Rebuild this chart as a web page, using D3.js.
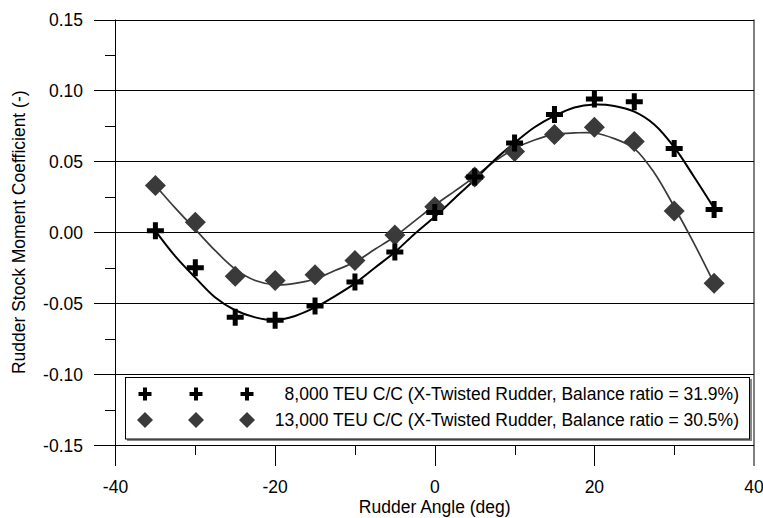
<!DOCTYPE html>
<html>
<head>
<meta charset="utf-8">
<script src="https://cdn.jsdelivr.net/npm/d3@7"></script>
<style>
  body { margin: 0; background: #fff; }
  text { font-family: "Liberation Sans", Arial, sans-serif; fill: #000; }
</style>
</head>
<body>
<div id="chart"></div>
<script>
// measured points
const angles = [-35, -30, -25, -20, -15, -10, -5, 0, 5, 10, 15, 20, 25, 30, 35];
const teu8000 = [0.001, -0.025, -0.060, -0.062, -0.052, -0.035, -0.014, 0.014, 0.039, 0.063, 0.083, 0.094, 0.092, 0.059, 0.016];
const teu13000 = [0.033, 0.007, -0.031, -0.034, -0.030, -0.020, -0.002, 0.018, 0.039, 0.057, 0.069, 0.074, 0.064, 0.015, -0.036];

// fitted trend curves
const curveAngles = [-35, -32.5, -30, -27.5, -25, -22.5, -20, -17.5, -15, -12.5, -10, -7.5, -5, -2.5, 0,
  2.5, 5, 7.5, 10, 12.5, 15, 17.5, 20, 22.5, 25, 27.5, 30, 32.5, 35];
const fit8000 = [0.001, -0.017, -0.032, -0.046, -0.055, -0.060, -0.062, -0.059, -0.053, -0.045, -0.036, -0.025, -0.014, -0.001, 0.011,
  0.024, 0.037, 0.051, 0.063, 0.074, 0.082, 0.088, 0.090, 0.089, 0.085, 0.076, 0.060, 0.039, 0.017];
const fit13000 = [0.033, 0.017, 0.002, -0.013, -0.026, -0.034, -0.037, -0.036, -0.033, -0.027, -0.021, -0.012, -0.003, 0.008, 0.019,
  0.029, 0.039, 0.050, 0.059, 0.065, 0.069, 0.070, 0.070, 0.066, 0.059, 0.042, 0.018, -0.008, -0.036];

const xMajor = [-40, -20, 0, 20, 40];
const xMinor = [-30, -10, 10, 30];
const yMajor = [-0.15, -0.10, -0.05, 0.00, 0.05, 0.10, 0.15];
const yMinor = [-0.125, -0.075, -0.025, 0.025, 0.075, 0.125];
const legendLabels = [
  "8,000 TEU C/C (X-Twisted Rudder, Balance ratio = 31.9%)",
  "13,000 TEU C/C (X-Twisted Rudder, Balance ratio = 30.5%)"
];

const W = 763, H = 518;
const plotL = 115.5, plotR = 754, plotT = 19.5, plotB = 445;
const fs = "17.5px";

const svg = d3.select("#chart").append("svg")
  .attr("width", W).attr("height", H);

const x = d3.scaleLinear().domain([-40, 40]).range([plotL, plotR]);
const y = d3.scaleLinear().domain([-0.15, 0.15]).range([plotB, plotT]);

// horizontal gridlines, running out past the axis
svg.append("g").selectAll("line").data(yMajor).join("line")
  .attr("x1", 94).attr("x2", plotR)
  .attr("y1", d => Math.round(y(d)) + 0.5).attr("y2", d => Math.round(y(d)) + 0.5)
  .attr("stroke", "#000").attr("stroke-width", 1);

svg.append("g").selectAll("line").data(yMinor).join("line")
  .attr("x1", 105).attr("x2", plotL)
  .attr("y1", d => Math.round(y(d)) + 0.5).attr("y2", d => Math.round(y(d)) + 0.5)
  .attr("stroke", "#000").attr("stroke-width", 1);

// vertical frame lines
svg.append("line").attr("x1", plotL).attr("x2", plotL).attr("y1", plotT).attr("y2", 466)
  .attr("stroke", "#000");
svg.append("line").attr("x1", plotR).attr("x2", plotR).attr("y1", plotT).attr("y2", 466)
  .attr("stroke", "#000");

svg.append("g").selectAll("line").data(xMajor.slice(1, -1)).join("line")
  .attr("x1", d => Math.round(x(d)) + 0.5).attr("x2", d => Math.round(x(d)) + 0.5)
  .attr("y1", plotB).attr("y2", 466).attr("stroke", "#000");
svg.append("g").selectAll("line").data(xMinor).join("line")
  .attr("x1", d => Math.round(x(d)) + 0.5).attr("x2", d => Math.round(x(d)) + 0.5)
  .attr("y1", plotB).attr("y2", 455).attr("stroke", "#000");

// tick labels (plain hyphen for negatives, as in the original)
svg.append("g").selectAll("text").data(yMajor).join("text")
  .attr("x", 83).attr("y", d => y(d) + 6.5)
  .attr("text-anchor", "end").style("font-size", fs)
  .text(d => d3.format(".2f")(d).replace("\u2212", "-"));

svg.append("g").selectAll("text").data(xMajor).join("text")
  .attr("x", d => x(d)).attr("y", 492.5)
  .attr("text-anchor", "middle").style("font-size", fs)
  .text(d => String(d));

svg.append("text").attr("x", (plotL + plotR) / 2).attr("y", 513)
  .attr("text-anchor", "middle").style("font-size", fs)
  .text("Rudder Angle (deg)");

svg.append("text")
  .attr("transform", `translate(25, ${(plotT + plotB) / 2}) rotate(-90)`)
  .attr("text-anchor", "middle").style("font-size", fs)
  .text("Rudder Stock Moment Coefficient (-)");

// trend curves
const line = d3.line().x(d => x(d[0])).y(d => y(d[1])).curve(d3.curveCatmullRom);
svg.append("path").datum(curveAngles.map((a, i) => [a, fit13000[i]]))
  .attr("d", line).attr("fill", "none").attr("stroke", "#3a3a3a").attr("stroke-width", 1.7);
svg.append("path").datum(curveAngles.map((a, i) => [a, fit8000[i]]))
  .attr("d", line).attr("fill", "none").attr("stroke", "#000").attr("stroke-width", 2);

function plusPath(r, t) {
  return `M${-t},${-r}H${t}V${-t}H${r}V${t}H${t}V${r}H${-t}V${t}H${-r}V${-t}H${-t}Z`;
}
function diamondPath(r) {
  return `M0,${-r}L${r},0L0,${r}L${-r},0Z`;
}

// markers
svg.append("g").selectAll("path").data(angles.map((a, i) => [a, teu13000[i]])).join("path")
  .attr("transform", d => `translate(${x(d[0])},${y(d[1])})`)
  .attr("d", diamondPath(10.5)).attr("fill", "#3a3a3a");
svg.append("g").selectAll("path").data(angles.map((a, i) => [a, teu8000[i]])).join("path")
  .attr("transform", d => `translate(${x(d[0])},${y(d[1])})`)
  .attr("d", plusPath(8.5, 2.5)).attr("fill", "#000");

// legend
const lg = svg.append("g");
lg.append("rect").attr("x", 127).attr("y", 379).attr("width", 625).attr("height", 62)
  .attr("fill", "#888");
lg.append("rect").attr("x", 125.5).attr("y", 377.5).attr("width", 624).attr("height", 61.5)
  .attr("fill", "#fff").attr("stroke", "#000").attr("stroke-width", 1);

const legendX = [145, 196, 247];
lg.append("g").selectAll("path").data(legendX).join("path")
  .attr("transform", d => `translate(${d},394)`)
  .attr("d", plusPath(6.5, 2)).attr("fill", "#000");
lg.append("g").selectAll("path").data(legendX).join("path")
  .attr("transform", d => `translate(${d},420)`)
  .attr("d", diamondPath(8)).attr("fill", "#3a3a3a");
lg.selectAll("text.lab").data(legendLabels).join("text")
  .attr("class", "lab")
  .attr("x", 739).attr("y", (d, i) => 400 + i * 26)
  .attr("text-anchor", "end").style("font-size", fs)
  .text(d => d);
</script>
</body>
</html>
